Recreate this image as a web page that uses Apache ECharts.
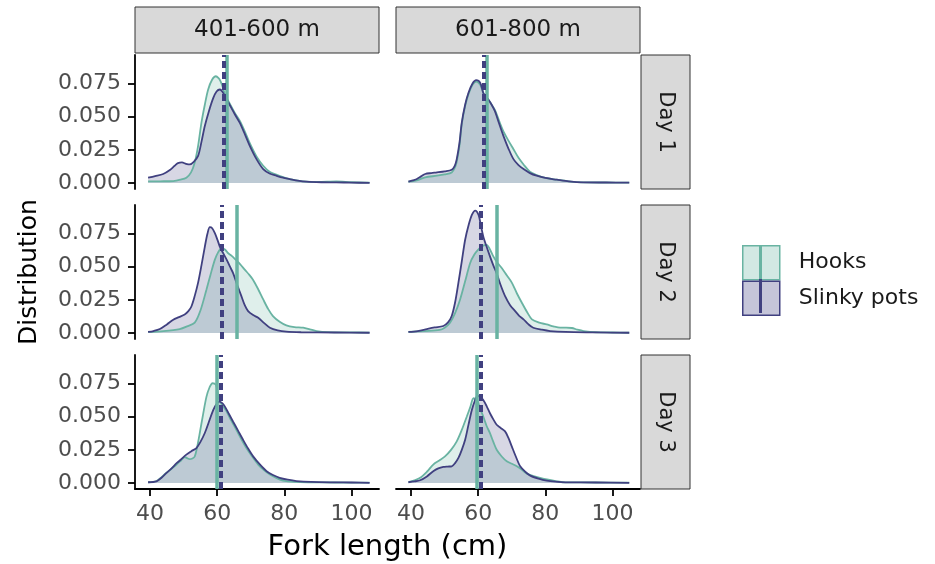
<!DOCTYPE html>
<html><head><meta charset="utf-8">
<script src="https://cdn.jsdelivr.net/npm/echarts@6/dist/echarts.min.js"></script>
<style>html,body{margin:0;padding:0;background:#fff}#c{width:935px;height:564px}</style>
</head><body><div id="c"></div><script>
// ---------- data ----------
const depthLabels = ['401-600 m', '601-800 m'];
const dayLabels = ['Day 1', 'Day 2', 'Day 3'];
const groupNames = ['Hooks', 'Slinky pots'];
const xTicks = [40, 60, 80, 100];
const yTicks = [0, 0.025, 0.05, 0.075];

// mean fork length per panel [day][depth]
const hooksMean = [[62.8, 62.5], [65.8, 65.5], [59.9, 59.6]];
const slinkyMean = [[62.0, 61.6], [61.3, 60.7], [61.1, 60.7]];

// density curves [fork length, density]
const hooks_d1_401 = [[39.4,0.0012],[43,0.0013],[46.9,0.0015],[49,0.0025],[50.8,0.004],[52.2,0.008],[53.3,0.0155],[54.3,0.028],[55.3,0.0455],[56.3,0.059],[57.3,0.0705],[58.5,0.078],[59.6,0.0805],[60.4,0.079],[61.0,0.0767],[61.7,0.072],[62.3,0.0667],[63.7,0.060],[65.2,0.053],[66.7,0.047],[68.2,0.039],[69.7,0.030],[71.7,0.020],[73.7,0.013],[75.6,0.0085],[77.6,0.0063],[79.6,0.0045],[81.6,0.003],[84,0.0018],[86.6,0.001],[90,0.0008],[95.5,0.0012],[100,0.0006],[105.4,0.0003]];
const slinky_d1_401 = [[39.4,0.004],[41.5,0.0052],[43.9,0.0068],[46,0.010],[47.3,0.013],[48.3,0.015],[49.5,0.0155],[50.7,0.0145],[51.8,0.014],[53,0.016],[54.3,0.0205],[55.3,0.031],[56.3,0.043],[57.5,0.054],[58.8,0.064],[59.8,0.069],[60.8,0.0705],[61.5,0.069],[62.3,0.0655],[63.7,0.059],[65.2,0.052],[66.7,0.0455],[68.2,0.037],[69.7,0.028],[71.7,0.018],[73.7,0.0105],[75.6,0.0072],[77.6,0.0055],[79.6,0.004],[81.6,0.003],[84,0.0018],[86.6,0.001],[91,0.0006],[95.5,0.0005],[100,0.0003],[105.4,0.0001]];
const hooks_d1_601 = [[39.2,0.001],[41.7,0.002],[44.2,0.0043],[47.7,0.0055],[50,0.0065],[52.1,0.008],[53.1,0.012],[53.6,0.016],[54.4,0.028],[55.1,0.0445],[56.1,0.058],[57.1,0.067],[58.3,0.074],[59.4,0.0765],[60.6,0.074],[61.5,0.068],[62.2,0.065],[63,0.063],[64,0.059],[65,0.055],[66.2,0.047],[67.5,0.039],[69,0.032],[70.5,0.0255],[72,0.019],[73.5,0.014],[75.4,0.0085],[77.4,0.006],[80,0.0038],[83.4,0.0025],[87,0.0013],[91.3,0.0005],[98,0.0004],[105,0.0003]];
const slinky_d1_601 = [[39.2,0.001],[40.5,0.002],[41.7,0.003],[43,0.005],[44.2,0.0068],[46,0.0075],[47.7,0.008],[50,0.0088],[52.1,0.010],[53,0.013],[53.6,0.018],[54.4,0.030],[55.1,0.0455],[56.1,0.059],[57.1,0.068],[58.3,0.075],[59.4,0.0775],[60.6,0.0755],[61.5,0.068],[62.2,0.065],[63,0.063],[64,0.059],[65,0.054],[66.2,0.045],[67.5,0.0355],[69,0.026],[70.5,0.018],[72,0.0135],[73.5,0.0105],[75.4,0.0075],[77.4,0.0055],[80,0.0038],[83.4,0.0025],[87,0.0012],[91.3,0.0005],[98,0.0004],[105,0.0003]];
const hooks_d2_401 = [[39.4,0.0008],[44,0.0015],[48.8,0.003],[51,0.005],[53.3,0.0078],[55,0.017],[56.8,0.0328],[58,0.044],[59.3,0.0553],[60.3,0.061],[61.3,0.064],[62.3,0.063],[63.2,0.0603],[64.4,0.058],[65.5,0.0553],[66.8,0.052],[68.2,0.0478],[69.5,0.044],[70.7,0.040],[72.2,0.033],[73.7,0.0253],[75.2,0.018],[76.6,0.0128],[78.6,0.0085],[80.6,0.0058],[83,0.0045],[85.6,0.004],[87.6,0.0028],[89.6,0.0015],[93,0.0007],[100,0.0005],[105.4,0.0003]];
const slinky_d2_401 = [[39.4,0.0008],[41,0.0015],[42.9,0.003],[45,0.0065],[46.9,0.010],[48.6,0.012],[50.3,0.014],[51.4,0.0165],[52.3,0.020],[53.3,0.028],[54.3,0.038],[55.3,0.051],[56.3,0.065],[57.1,0.075],[57.8,0.0798],[58.5,0.079],[59.3,0.0753],[60.1,0.070],[60.8,0.065],[61.8,0.060],[62.8,0.0553],[63.8,0.050],[64.7,0.0453],[66,0.036],[67.2,0.0278],[68.2,0.021],[69.2,0.0165],[70.7,0.0135],[72.2,0.0115],[74,0.0075],[75.7,0.004],[78,0.002],[80.6,0.001],[85,0.0006],[95,0.0004],[105.4,0.0002]];
const hooks_d2_601 = [[39.2,0.0008],[44,0.0015],[48.5,0.0023],[50,0.004],[51.6,0.0078],[53.1,0.015],[54.6,0.0253],[56.1,0.039],[57.6,0.0528],[58.8,0.059],[60,0.0628],[61.2,0.0655],[62.5,0.0665],[63.5,0.063],[64.5,0.0578],[65.7,0.053],[67,0.049],[68.5,0.0435],[70,0.038],[71.5,0.030],[73,0.0228],[74.5,0.016],[76,0.0103],[78.2,0.0078],[80.4,0.0065],[82.4,0.005],[84.4,0.004],[86.2,0.004],[87.9,0.0038],[89.6,0.0025],[91.4,0.0015],[95,0.0006],[100,0.0004],[105,0.0002]];
const slinky_d2_601 = [[39.2,0.0008],[42,0.0015],[44.7,0.003],[47,0.0042],[49.6,0.0053],[51,0.008],[52.1,0.0128],[53.1,0.023],[54.1,0.038],[55.1,0.054],[56.1,0.0703],[57.1,0.081],[58.1,0.089],[59.1,0.0923],[60.1,0.089],[60.8,0.081],[61.5,0.0728],[62.5,0.065],[63.5,0.0578],[64.5,0.051],[65.5,0.045],[66.7,0.036],[68,0.0278],[69.5,0.021],[71,0.0165],[72.2,0.013],[73.5,0.0103],[75,0.0065],[76.4,0.004],[79,0.0025],[81.4,0.0015],[86,0.0008],[95,0.0005],[105,0.0002]];
const hooks_d3_401 = [[39.4,0.0006],[41.9,0.0015],[44.9,0.0077],[47.9,0.014],[49.2,0.017],[50.3,0.0196],[51,0.0188],[51.8,0.018],[52.6,0.0185],[53.3,0.020],[54,0.027],[54.8,0.0377],[55.8,0.052],[56.8,0.0651],[57.7,0.072],[58.6,0.0752],[59.6,0.074],[60.1,0.069],[60.6,0.0626],[61.7,0.058],[62.8,0.0539],[64.2,0.047],[65.7,0.0401],[67.2,0.033],[68.7,0.0264],[70.4,0.02],[72.2,0.0139],[74,0.0095],[75.7,0.0064],[77.6,0.0038],[79.6,0.0018],[83,0.0008],[88,0.0005],[95,0.0004],[105.4,0.0003]];
const slinky_d3_401 = [[39.4,0.0006],[41.9,0.0013],[43.4,0.004],[44.9,0.0077],[46.4,0.011],[47.9,0.015],[49.3,0.018],[50.8,0.0214],[52.3,0.024],[53.8,0.0264],[55,0.031],[56.3,0.0377],[57.5,0.046],[58.8,0.055],[59.8,0.0595],[60.6,0.0614],[61.5,0.0602],[62.3,0.0576],[63.5,0.052],[64.7,0.0464],[66.2,0.0395],[67.7,0.0326],[69.2,0.026],[70.7,0.0201],[72.7,0.014],[74.7,0.0089],[76.6,0.006],[78.6,0.0039],[81,0.0025],[83.6,0.0015],[88,0.0008],[95,0.0005],[100,0.0004],[105.4,0.0001]];
const hooks_d3_601 = [[39.2,0.0006],[41,0.002],[42.7,0.0039],[44.7,0.0085],[46.6,0.0139],[48.4,0.017],[50.1,0.0201],[51.9,0.025],[53.6,0.0314],[55.1,0.040],[56.6,0.0501],[57.6,0.057],[58.6,0.0639],[59.3,0.063],[59.8,0.062],[60.6,0.056],[61.5,0.0501],[62.5,0.043],[63.5,0.0376],[64.5,0.031],[65.5,0.0251],[67,0.020],[68.5,0.0164],[70,0.0145],[71.5,0.0126],[73,0.010],[74.5,0.0071],[76.5,0.0052],[78.4,0.0039],[80.9,0.0025],[83.4,0.0013],[86,0.0005],[95,0.0004],[105,0.0003]];
const slinky_d3_601 = [[39.2,0.0006],[41,0.0012],[42.7,0.0021],[44.7,0.005],[46.6,0.0089],[48.1,0.011],[49.6,0.0121],[50.9,0.0124],[52.1,0.0126],[53.1,0.015],[54.1,0.0189],[55.1,0.025],[56.1,0.0326],[57.1,0.044],[58.1,0.055],[59,0.062],[59.8,0.0656],[60.6,0.065],[61.5,0.0626],[62.5,0.058],[63.5,0.0526],[64.5,0.048],[65.5,0.0439],[66.7,0.0415],[68,0.0389],[69,0.034],[70,0.0276],[71.2,0.020],[72.5,0.0126],[74,0.0085],[75.5,0.0056],[78,0.0033],[80.4,0.0018],[83,0.001],[86,0.0005],[95,0.0004],[105,0.0001]];

const hooksData = [[hooks_d1_401, hooks_d1_601], [hooks_d2_401, hooks_d2_601], [hooks_d3_401, hooks_d3_601]];
const slinkyData = [[slinky_d1_401, slinky_d1_601], [slinky_d2_401, slinky_d2_601], [slinky_d3_401, slinky_d3_601]];

// ---------- layout & style ----------
const colLeft = [135, 396];
const panelW = 244;
const rowTop = [55, 205, 355];
const panelH = 134;
const stripTop = 7, stripH = 46;
const rStripX = 641, rStripW = 49;
const xMin = 35.5, xMax = 108.2;
const yMin = -0.0045, yMax = 0.0965;

const hookLine = '#69b3a2', hookFill = 'rgba(105,179,162,0.3)';
const potLine = '#404080', potFill = 'rgba(64,64,128,0.3)';
const FONT = 'DejaVu Sans';

const grids = [], xAxes = [], yAxes = [], series = [];
for (let r = 0; r < 3; r++) {
  for (let c = 0; c < 2; c++) {
    const i = r * 2 + c;
    grids.push({ left: colLeft[c], top: rowTop[r], width: panelW, height: panelH });
    const showX = r === 2, showY = c === 0;
    xAxes.push({
      type: 'value', gridIndex: i, min: xMin, max: xMax,
      splitLine: { show: false },
      axisLine: { show: showX, onZero: false, lineStyle: { color: '#000', width: 1.8 } },
      axisTick: { show: showX, length: 7, customValues: xTicks, lineStyle: { color: '#000', width: 1.8 } },
      axisLabel: { show: showX, customValues: xTicks, margin: 14, color: '#4d4d4d', fontSize: 22, fontFamily: FONT, formatter: v => String(v) }
    });
    yAxes.push({
      type: 'value', gridIndex: i, min: yMin, max: yMax,
      splitLine: { show: false },
      axisLine: { show: showY, onZero: false, lineStyle: { color: '#000', width: 1.8 } },
      axisTick: { show: showY, length: 7, customValues: yTicks, lineStyle: { color: '#000', width: 1.8 } },
      axisLabel: { show: showY, customValues: yTicks, margin: 14, color: '#4d4d4d', fontSize: 22, fontFamily: FONT, formatter: v => v.toFixed(3) }
    });
    series.push({
      name: groupNames[0], type: 'line', xAxisIndex: i, yAxisIndex: i,
      data: hooksData[r][c], smooth: 0.3, showSymbol: false, symbol: 'none',
      lineStyle: { color: hookLine, width: 1.8 }, itemStyle: { color: hookLine },
      areaStyle: { color: hookFill, origin: 0 },
      markLine: { silent: true, symbol: 'none', label: { show: false }, animation: false,
        lineStyle: { color: hookLine, width: 3.5, type: 'solid' },
        data: [{ xAxis: hooksMean[r][c] }] }
    });
    series.push({
      name: groupNames[1], type: 'line', xAxisIndex: i, yAxisIndex: i,
      data: slinkyData[r][c], smooth: 0.3, showSymbol: false, symbol: 'none',
      lineStyle: { color: potLine, width: 1.8 }, itemStyle: { color: potLine },
      areaStyle: { color: potFill, origin: 0 },
      markLine: { silent: true, symbol: 'none', label: { show: false }, animation: false,
        lineStyle: { color: potLine, width: 4, type: [7, 4] },
        data: [{ xAxis: slinkyMean[r][c] }] }
    });
  }
}

const graphic = [];
for (let c = 0; c < 2; c++) {
  graphic.push({ type: 'rect', shape: { x: colLeft[c], y: stripTop, width: panelW, height: stripH },
    style: { fill: '#d9d9d9', stroke: '#333', lineWidth: 1 } });
  graphic.push({ type: 'text', x: colLeft[c] + panelW / 2, y: stripTop + stripH / 2,
    style: { text: depthLabels[c], align: 'center', verticalAlign: 'middle', textAlign: 'center', textVerticalAlign: 'middle',
      fill: '#1a1a1a', font: '23px "' + FONT + '"' } });
}
for (let r = 0; r < 3; r++) {
  graphic.push({ type: 'rect', shape: { x: rStripX, y: rowTop[r], width: rStripW, height: panelH },
    style: { fill: '#d9d9d9', stroke: '#333', lineWidth: 1 } });
  graphic.push({ type: 'text', x: rStripX + rStripW / 2, y: rowTop[r] + panelH / 2, rotation: -Math.PI / 2,
    style: { text: dayLabels[r], align: 'center', verticalAlign: 'middle', textAlign: 'center', textVerticalAlign: 'middle',
      fill: '#1a1a1a', font: '21px "' + FONT + '"' } });
}
// axis titles
graphic.push({ type: 'text', x: 29, y: rowTop[1] + panelH / 2, rotation: Math.PI / 2,
  style: { text: 'Distribution', align: 'center', verticalAlign: 'middle', textAlign: 'center', textVerticalAlign: 'middle',
    fill: '#000', font: '25px "' + FONT + '"' } });
graphic.push({ type: 'text', x: (colLeft[0] + colLeft[1] + panelW) / 2, y: 547,
  style: { text: 'Fork length (cm)', align: 'center', verticalAlign: 'middle', textAlign: 'center', textVerticalAlign: 'middle',
    fill: '#000', font: '29px "' + FONT + '"' } });
// legend key middle lines
const legLeft = 742, legTop = 245, keyW = 37, keyH = 34;
graphic.push({ type: 'line', z: 100, shape: { x1: legLeft + keyW / 2, y1: legTop, x2: legLeft + keyW / 2, y2: legTop + keyH },
  style: { stroke: hookLine, lineWidth: 3 } });
graphic.push({ type: 'line', z: 100, shape: { x1: legLeft + keyW / 2, y1: legTop + keyH, x2: legLeft + keyW / 2, y2: legTop + 2 * keyH },
  style: { stroke: potLine, lineWidth: 3 } });

const chart = echarts.init(document.getElementById('c'), null, { renderer: 'canvas' });
chart.setOption({
  animation: false,
  backgroundColor: '#fff',
  grid: grids, xAxis: xAxes, yAxis: yAxes, series: series,
  legend: {
    orient: 'vertical', left: legLeft, top: legTop, padding: 0, itemWidth: keyW, itemHeight: keyH, itemGap: 0,
    selectedMode: false,
    textStyle: { fontSize: 22, fontFamily: FONT, color: '#1a1a1a', padding: [0, 0, 0, 14] },
    data: [
      { name: groupNames[0], icon: 'rect', itemStyle: { color: hookFill, borderColor: hookLine, borderWidth: 1.5 } },
      { name: groupNames[1], icon: 'rect', itemStyle: { color: potFill, borderColor: potLine, borderWidth: 1.5 } }
    ]
  },
  graphic: graphic
});
</script></body></html>
